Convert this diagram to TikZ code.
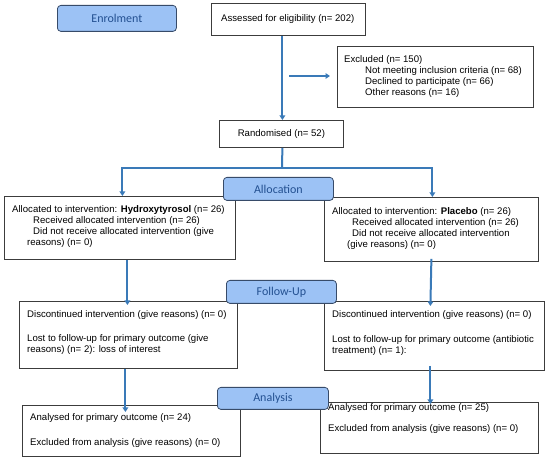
\documentclass[tikz,border=0pt]{standalone}
\usepackage{fontspec}
\setmainfont{Liberation Sans}
\newfontfamily\labfont{Carlito}
\usetikzlibrary{arrows.meta}
\definecolor{arrblue}{RGB}{58,122,184}
\definecolor{labfill}{RGB}{156,194,245}
\definecolor{labdraw}{RGB}{55,75,105}
\definecolor{labtext}{RGB}{35,80,145}
\definecolor{boxdraw}{RGB}{60,60,60}
\tikzset{
  box/.style={draw=boxdraw, line width=0.8pt, fill=white, inner sep=0pt},
  lab/.style={draw=labdraw, line width=0.8pt, fill=labfill, rounded corners=3.5pt, inner sep=0pt,
    font=\labfont\fontsize{12}{14}\selectfont, text=labtext},
  txt/.style={inner sep=0pt, align=left, anchor=north west, font=\fontsize{9.6}{11}\selectfont},
  arr/.style={draw=arrblue, line width=2pt, -{Triangle[length=4.5pt,width=5.5pt]}},
  ln/.style={draw=arrblue, line width=2pt}
}
\begin{document}
\begin{tikzpicture}[x=1pt,y=-1pt]
\useasboundingbox (0,0) rectangle (550,462);
% boxes
\node[box, minimum width=154pt, minimum height=32pt, anchor=north west] (assess) at (211,3) {};
\node[txt, anchor=west] (assessT) at (221,19) {Assessed for eligibility (n= 202)};
\node[box, minimum width=196pt, minimum height=61pt, anchor=north west] (excl) at (337,46) {};
\node[txt] (exclT) at (344,55) {Excluded (n= 150)\\
\hspace{21pt}Not meeting inclusion criteria (n= 68)\\
\hspace{21pt}Declined to participate (n= 66)\\
\hspace{21pt}Other reasons (n= 16)};
\node[box, minimum width=124pt, minimum height=27pt, anchor=north west] (rand) at (219,120) {};
\node[txt, anchor=center] (randT) at (rand.center) {Randomised (n= 52)};
\node[box, minimum width=231pt, minimum height=63pt, anchor=north west] (allocL) at (4,196) {};
\node[txt] (allocLT) at (12,205.5) {Allocated to intervention: \textbf{Hydroxytyrosol} (n= 26)\\
\hspace{21pt}Received allocated intervention (n= 26)\\
\hspace{21pt}Did not receive allocated intervention (give\\
\hspace{15pt}reasons) (n= 0)};
\node[box, minimum width=214pt, minimum height=64pt, anchor=north west] (allocR) at (324,197) {};
\node[txt] (allocRT) at (332,207) {Allocated to intervention: \textbf{Placebo} (n= 26)\\
\hspace{20pt}Received allocated intervention (n= 26)\\
\hspace{20pt}Did not receive allocated intervention\\
\hspace{15pt}(give reasons) (n= 0)};
\node[box, minimum width=218pt, minimum height=67pt, anchor=north west] (fuL) at (19,301) {};
\node[txt] (fuLT) at (27,310.5) {Discontinued intervention (give reasons) (n= 0)\\[13pt]
Lost to follow-up for primary outcome (give\\
reasons) (n= 2): loss of interest};
\node[box, minimum width=220pt, minimum height=69pt, anchor=north west] (fuR) at (324,301) {};
\node[txt] (fuRT) at (332,310.5) {Discontinued intervention (give reasons) (n= 0)\\[14pt]
Lost to follow-up for primary outcome (antibiotic\\
treatment) (n= 1):};
\node[box, minimum width=218pt, minimum height=51pt, anchor=north west] (anL) at (22,405) {};
\node[txt] (anLT) at (30,413.5) {Analysed for primary outcome (n= 24)\\[14pt]
Excluded from analysis (give reasons) (n= 0)};
\node[box, minimum width=218pt, minimum height=51pt, anchor=north west] (anR) at (320,402) {};
\node[txt] (anRT) at (328,403.5) {Analysed for primary outcome (n= 25)\\[10pt]
Excluded from analysis (give reasons) (n= 0)};
% labels
\node[lab, minimum width=119pt, minimum height=26pt, anchor=north west] (enrol) at (57,5) {Enrolment};
\node[lab, minimum width=110pt, minimum height=23pt, anchor=north west] (alloc) at (223,177) {Allocation};
\node[lab, minimum width=110pt, minimum height=23pt, anchor=north west] (follow) at (226,280) {Follow-Up};
\node[lab, minimum width=111pt, minimum height=22pt, anchor=north west] (anal) at (217,387) {Analysis};
% connectors
\draw[arr] ([xshift=-6pt]assess.south) -- ([xshift=1pt]rand.north);
\coordinate (exA) at (289,76);
\coordinate (exB) at (330,76);
\draw[arr] (exA) -- (exB);
\coordinate (split) at (282,168);
\draw[ln] ([xshift=1pt]rand.south) -- (split);
\draw[arr] (split) -| ([xshift=2.5pt]allocL.north);
\draw[arr] (split) -| ([xshift=1pt]allocR.north);
\draw[arr] ([xshift=7.5pt]allocL.south) -- ([xshift=-1pt,yshift=-4pt]fuL.north);
\draw[arr] ([xshift=0pt,yshift=3pt]allocR.south) -- ([xshift=-4pt,yshift=-5pt]fuR.north);
\draw[arr] ([xshift=-3pt]fuL.south) -- ([xshift=-6pt,yshift=-7pt]anL.north);
\draw[arr] ([xshift=-4pt,yshift=5pt]fuR.south) -- ([xshift=1pt,yshift=-2pt]anR.north);
\end{tikzpicture}
\end{document}
